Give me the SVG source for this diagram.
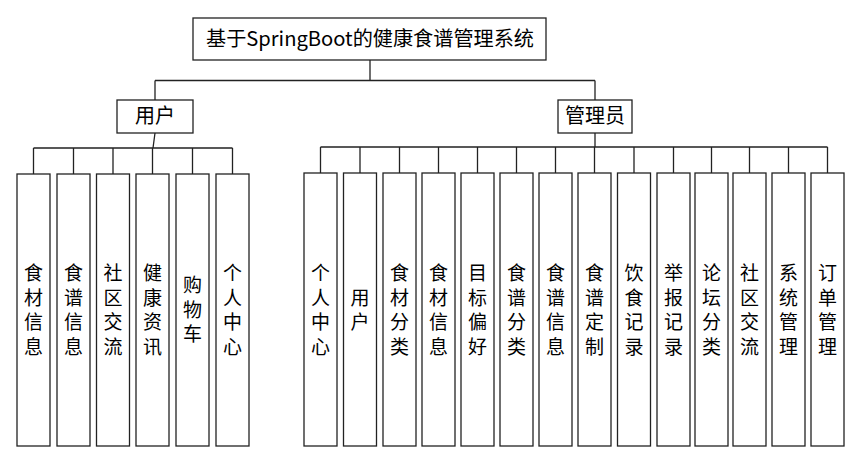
<svg xmlns="http://www.w3.org/2000/svg" width="860" height="449" viewBox="0 0 860 449">
<style>
.box{fill:#fff;stroke:#222;stroke-width:1.3}
.ln{fill:none;stroke:#222;stroke-width:1.3}
.t{font-family:"Noto Sans CJK SC","Liberation Serif",sans-serif;font-size:19px;fill:#000;text-anchor:middle}
.h{font-family:"Noto Sans CJK SC","Liberation Serif",sans-serif;font-size:20px;fill:#000;text-anchor:middle}
</style>
<rect width="860" height="449" fill="#fff"/>
<g id="connectors">
<path class="ln" d="M370,60V80.5M155,80.5H595M155,80.5V100M595,80.5V100"/>
<path class="ln" d="M155,133L153,148M33.5,148H232.5M33.5,148V174M73.5,148V174M113,148V174M152.5,148V174M192.5,148V174M232.5,148V174"/>
<path class="ln" d="M595,133V147M320.5,147H827.5M320.5,147V173M360,147V173M399.5,147V173M438.5,147V173M477.5,147V173M516.5,147V173M555.5,147V173M594.5,147V173M634,147V173M673.5,147V173M711.5,147V173M749.5,147V173M788.5,147V173M827.5,147V173"/>
</g>
<g id="root"><rect class="box" x="193" y="18" width="353" height="42"/><text class="h" x="370" y="46" textLength="328" lengthAdjust="spacingAndGlyphs">基于SpringBoot的健康食谱管理系统</text></g>
<g id="user"><rect class="box" x="117" y="100" width="76" height="33"/><text class="h" x="155" y="123">用户</text></g>
<g id="admin"><rect class="box" x="558" y="100" width="74" height="33"/><text class="h" x="595" y="123">管理员</text></g>
<g id="u1"><rect class="box" x="17" y="174" width="33" height="272"/><text class="t"><tspan x="33.5" y="280">食</tspan><tspan x="33.5" y="304.5">材</tspan><tspan x="33.5" y="329">信</tspan><tspan x="33.5" y="353.5">息</tspan></text></g>
<g id="u2"><rect class="box" x="57" y="174" width="33" height="272"/><text class="t"><tspan x="73.5" y="280">食</tspan><tspan x="73.5" y="304.5">谱</tspan><tspan x="73.5" y="329">信</tspan><tspan x="73.5" y="353.5">息</tspan></text></g>
<g id="u3"><rect class="box" x="96.5" y="174" width="33" height="272"/><text class="t"><tspan x="113" y="280">社</tspan><tspan x="113" y="304.5">区</tspan><tspan x="113" y="329">交</tspan><tspan x="113" y="353.5">流</tspan></text></g>
<g id="u4"><rect class="box" x="136" y="174" width="33" height="272"/><text class="t"><tspan x="152.5" y="280">健</tspan><tspan x="152.5" y="304.5">康</tspan><tspan x="152.5" y="329">资</tspan><tspan x="152.5" y="353.5">讯</tspan></text></g>
<g id="u5"><rect class="box" x="176" y="174" width="33" height="272"/><text class="t"><tspan x="192.5" y="292">购</tspan><tspan x="192.5" y="316.5">物</tspan><tspan x="192.5" y="341">车</tspan></text></g>
<g id="u6"><rect class="box" x="216" y="174" width="33" height="272"/><text class="t"><tspan x="232.5" y="280">个</tspan><tspan x="232.5" y="304.5">人</tspan><tspan x="232.5" y="329">中</tspan><tspan x="232.5" y="353.5">心</tspan></text></g>
<g id="a1"><rect class="box" x="304" y="173" width="33" height="273"/><text class="t"><tspan x="320.5" y="280">个</tspan><tspan x="320.5" y="304.5">人</tspan><tspan x="320.5" y="329">中</tspan><tspan x="320.5" y="353.5">心</tspan></text></g>
<g id="a2"><rect class="box" x="343.5" y="173" width="33" height="273"/><text class="t"><tspan x="360" y="304.5">用</tspan><tspan x="360" y="329">户</tspan></text></g>
<g id="a3"><rect class="box" x="383" y="173" width="33" height="273"/><text class="t"><tspan x="399.5" y="280">食</tspan><tspan x="399.5" y="304.5">材</tspan><tspan x="399.5" y="329">分</tspan><tspan x="399.5" y="353.5">类</tspan></text></g>
<g id="a4"><rect class="box" x="422" y="173" width="33" height="273"/><text class="t"><tspan x="438.5" y="280">食</tspan><tspan x="438.5" y="304.5">材</tspan><tspan x="438.5" y="329">信</tspan><tspan x="438.5" y="353.5">息</tspan></text></g>
<g id="a5"><rect class="box" x="461" y="173" width="33" height="273"/><text class="t"><tspan x="477.5" y="280">目</tspan><tspan x="477.5" y="304.5">标</tspan><tspan x="477.5" y="329">偏</tspan><tspan x="477.5" y="353.5">好</tspan></text></g>
<g id="a6"><rect class="box" x="500" y="173" width="33" height="273"/><text class="t"><tspan x="516.5" y="280">食</tspan><tspan x="516.5" y="304.5">谱</tspan><tspan x="516.5" y="329">分</tspan><tspan x="516.5" y="353.5">类</tspan></text></g>
<g id="a7"><rect class="box" x="539" y="173" width="33" height="273"/><text class="t"><tspan x="555.5" y="280">食</tspan><tspan x="555.5" y="304.5">谱</tspan><tspan x="555.5" y="329">信</tspan><tspan x="555.5" y="353.5">息</tspan></text></g>
<g id="a8"><rect class="box" x="578" y="173" width="33" height="273"/><text class="t"><tspan x="594.5" y="280">食</tspan><tspan x="594.5" y="304.5">谱</tspan><tspan x="594.5" y="329">定</tspan><tspan x="594.5" y="353.5">制</tspan></text></g>
<g id="a9"><rect class="box" x="617.5" y="173" width="33" height="273"/><text class="t"><tspan x="634" y="280">饮</tspan><tspan x="634" y="304.5">食</tspan><tspan x="634" y="329">记</tspan><tspan x="634" y="353.5">录</tspan></text></g>
<g id="a10"><rect class="box" x="657" y="173" width="33" height="273"/><text class="t"><tspan x="673.5" y="280">举</tspan><tspan x="673.5" y="304.5">报</tspan><tspan x="673.5" y="329">记</tspan><tspan x="673.5" y="353.5">录</tspan></text></g>
<g id="a11"><rect class="box" x="695" y="173" width="33" height="273"/><text class="t"><tspan x="711.5" y="280">论</tspan><tspan x="711.5" y="304.5">坛</tspan><tspan x="711.5" y="329">分</tspan><tspan x="711.5" y="353.5">类</tspan></text></g>
<g id="a12"><rect class="box" x="733" y="173" width="33" height="273"/><text class="t"><tspan x="749.5" y="280">社</tspan><tspan x="749.5" y="304.5">区</tspan><tspan x="749.5" y="329">交</tspan><tspan x="749.5" y="353.5">流</tspan></text></g>
<g id="a13"><rect class="box" x="772" y="173" width="33" height="273"/><text class="t"><tspan x="788.5" y="280">系</tspan><tspan x="788.5" y="304.5">统</tspan><tspan x="788.5" y="329">管</tspan><tspan x="788.5" y="353.5">理</tspan></text></g>
<g id="a14"><rect class="box" x="811" y="173" width="33" height="273"/><text class="t"><tspan x="827.5" y="280">订</tspan><tspan x="827.5" y="304.5">单</tspan><tspan x="827.5" y="329">管</tspan><tspan x="827.5" y="353.5">理</tspan></text></g>
</svg>
